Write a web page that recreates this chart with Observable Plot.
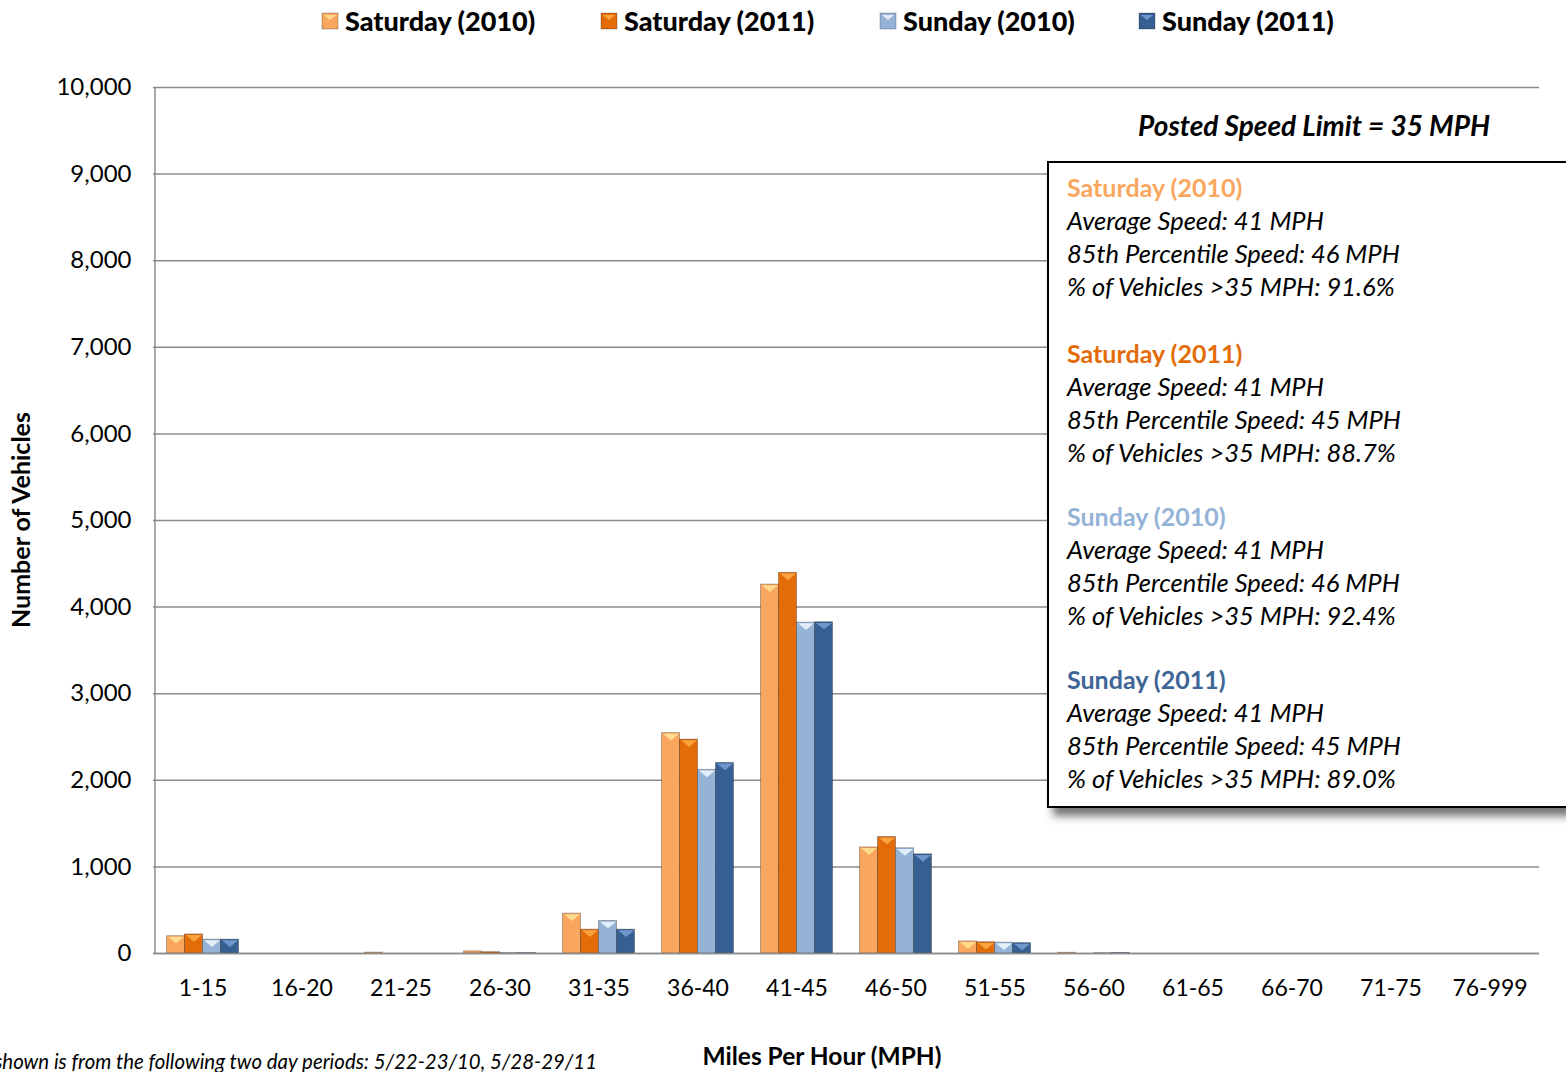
<!DOCTYPE html>
<html>
<head>
<meta charset="utf-8">
<script src="https://cdn.jsdelivr.net/npm/d3@7"></script>
<script src="https://cdn.jsdelivr.net/npm/@observablehq/plot@0.6"></script>
<style>
  html, body { margin: 0; padding: 0; background: #fff; }
  #chart { position: relative; width: 1566px; height: 1072px; overflow: hidden; }
</style>
</head>
<body>
<div id="chart"></div>
<script>
// ---- data ----
const categories = ["1-15","16-20","21-25","26-30","31-35","36-40","41-45","46-50","51-55","56-60","61-65","66-70","71-75","76-999"];
const seriesNames = ["Saturday (2010)","Saturday (2011)","Sunday (2010)","Sunday (2011)"];
const sat2010 = [200, 0, 10, 25, 460, 2545, 4260, 1225, 140, 8, 0, 0, 0, 0];
const sat2011 = [220, 0, 0, 15, 275, 2470, 4395, 1345, 130, 0, 0, 0, 0, 0];
const sun2010 = [160, 0, 0, 5, 375, 2120, 3820, 1215, 125, 4, 0, 0, 0, 0];
const sun2011 = [160, 0, 0, 5, 275, 2200, 3825, 1145, 120, 6, 0, 0, 0, 0];
const yTicks = [0, 1000, 2000, 3000, 4000, 5000, 6000, 7000, 8000, 9000, 10000];

const avgSpeed = [41, 41, 41, 41];
const pct85Speed = [46, 45, 46, 45];
const pctOver35 = ["91.6%", "88.7%", "92.4%", "89.0%"];

const colors = ["#F9A65E", "#E36C09", "#95B3D7", "#376092"];
const lightColors = ["#FFDB8F", "#F9A240", "#E4EEF9", "#6E96CC"];
const headerColors = ["#F9A65E", "#E36C09", "#95B3D7", "#3D6596"];

const seriesValues = [sat2010, sat2011, sun2010, sun2011];
const data = [];
categories.forEach((c, i) => {
  seriesNames.forEach((s, j) => data.push({cat: c, series: s, value: seriesValues[j][i]}));
});

const flatTri = {
  draw(ctx, size) {
    const r = Math.sqrt(size / Math.PI);
    ctx.moveTo(-r, -r * 0.42);
    ctx.lineTo(r, -r * 0.42);
    ctx.lineTo(0, r * 0.42);
    ctx.closePath();
  }
};

const FONT = "Lato, 'Open Sans', sans-serif";
const W = 1566, H = 1072, MT = 87, MB = 119;
const AXIS_X = 155;

const triMarks = seriesNames.map((s, j) =>
  Plot.dot(data.filter(d => d.series === s && d.value >= 100), {
    fx: "cat", x: "series", y: "value", symbol: flatTri, r: 8, dy: 4,
    fill: lightColors[j], stroke: "none"
  })
);

const plot = Plot.plot({
  width: W,
  height: H,
  marginTop: MT,
  marginBottom: MB,
  marginLeft: 150.5,
  marginRight: 24.5,
  style: {fontFamily: FONT, background: "white", color: "#000"},
  fx: {domain: categories, paddingInner: 0, paddingOuter: 0, label: null},
  x: {domain: seriesNames, paddingInner: 0, paddingOuter: 0.74, axis: null},
  y: {domain: [0, 10000], axis: null},
  color: {domain: seriesNames, range: colors},
  marks: [
    Plot.gridY(yTicks, {stroke: "#8c8c8c", strokeOpacity: 1, strokeWidth: 1.5}),
    Plot.barY(data, {fx: "cat", x: "series", y: "value", fill: "series", stroke: "#000", strokeOpacity: 0.28, strokeWidth: 1}),
    ...triMarks,
    Plot.ruleY([0], {stroke: "#8c8c8c", strokeWidth: 1.5}),
    Plot.axisY(yTicks, {anchor: "left", tickFormat: d3.format(","), tickSize: 0, tickPadding: 22, fontSize: 24, label: null}),
    Plot.axisFx({anchor: "bottom", tickSize: 0, tickPadding: 26, fontSize: 23, label: null})
  ]
});

document.getElementById("chart").appendChild(plot);

// ---- extra decorations ----
const svg = d3.select(plot);
const y = plot.scale("y");
const yTop = y.apply(10000), yBot = y.apply(0);

const defs = svg.append("defs");
const f = defs.append("filter").attr("id", "shadow").attr("x", "-10%").attr("y", "-10%").attr("width", "130%").attr("height", "130%");
f.append("feDropShadow").attr("dx", 6).attr("dy", 8).attr("stdDeviation", 4)
  .attr("flood-color", "#000").attr("flood-opacity", 0.55);

// left axis line
svg.append("line").attr("x1", AXIS_X).attr("x2", AXIS_X).attr("y1", yTop).attr("y2", yBot + 1)
  .attr("stroke", "#8c8c8c").attr("stroke-width", 1.5);

// axis titles
svg.append("text").attr("transform", `translate(30,${(yTop + yBot) / 2}) rotate(-90)`)
  .attr("text-anchor", "middle").attr("font-family", FONT).attr("font-weight", 700)
  .attr("font-size", 25).text("Number of Vehicles");
svg.append("text").attr("x", 822).attr("y", 1065).attr("text-anchor", "middle")
  .attr("font-family", FONT).attr("font-weight", 700).attr("font-size", 24.5)
  .text("Miles Per Hour (MPH)");

// footnote (clipped at left as in reference)
svg.append("text").attr("x", 597).attr("y", 1069).attr("text-anchor", "end")
  .attr("font-family", FONT).attr("font-style", "italic").attr("font-size", 20.4)
  .text("Data shown is from the following two day periods: 5/22-23/10, 5/28-29/11");

// legend
const legendX = [322, 601, 880, 1139];
seriesNames.forEach((s, j) => {
  const g = svg.append("g").attr("transform", `translate(${legendX[j]},0)`);
  g.append("rect").attr("x", 0).attr("y", 13).attr("width", 16).attr("height", 16)
    .attr("fill", colors[j]).attr("stroke", "#000").attr("stroke-opacity", 0.25);
  g.append("path").attr("d", "M2,15 L14,15 L8,20 Z").attr("fill", lightColors[j]);
  g.append("text").attr("x", 23).attr("y", 31).attr("text-anchor", "start").attr("font-family", FONT)
    .attr("font-weight", 900).attr("font-size", 27).text(s);
});

// posted speed limit
svg.append("text").attr("x", 1490).attr("y", 136).attr("text-anchor", "end")
  .attr("font-family", FONT).attr("font-weight", 700).attr("font-style", "italic")
  .attr("font-size", 28).text("Posted Speed Limit = 35 MPH");

// stats box
svg.append("rect").attr("x", 1048).attr("y", 162).attr("width", 580).attr("height", 645)
  .attr("fill", "#fff").attr("stroke", "#000").attr("stroke-width", 2).attr("filter", "url(#shadow)");
const headerY = [197, 363, 526, 689];
seriesNames.forEach((s, j) => {
  const g = svg.append("g").attr("font-family", FONT).attr("font-size", 25.5).attr("text-anchor", "start");
  g.append("text").attr("x", 1067).attr("y", headerY[j]).attr("font-weight", 700)
    .attr("font-size", 25).attr("fill", headerColors[j]).text(s);
  const lines = [
    `Average Speed: ${avgSpeed[j]} MPH`,
    `85th Percentile Speed: ${pct85Speed[j]} MPH`,
    `% of Vehicles >35 MPH: ${pctOver35[j]}`
  ];
  lines.forEach((t, k) => {
    g.append("text").attr("x", 1067).attr("y", headerY[j] + 33 * (k + 1))
      .attr("font-style", "italic").text(t);
  });
});
</script>
</body>
</html>
